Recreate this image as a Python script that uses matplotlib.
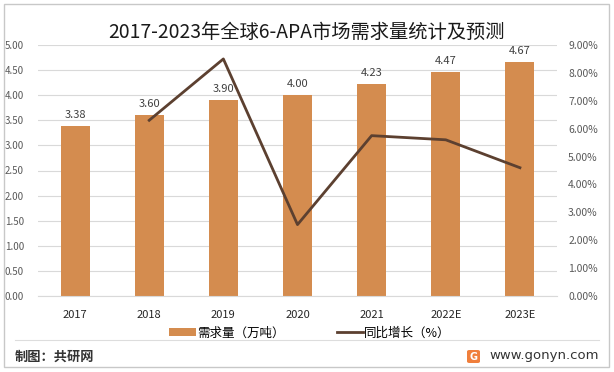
import numpy as np
import matplotlib.pyplot as plt
from matplotlib.patches import Rectangle, FancyBboxPatch
from matplotlib.lines import Line2D

plt.rcParams['font.family'] = ['Noto Sans CJK SC', 'DejaVu Sans']

years = ['2017', '2018', '2019', '2020', '2021', '2022E', '2023E']
demand = [3.38, 3.60, 3.90, 4.00, 4.23, 4.47, 4.67]
growth_years = ['2018', '2019', '2020', '2021', '2022E', '2023E']
growth = [6.3, 8.5, 2.56, 5.75, 5.6, 4.6]

bar_color = '#D48C4F'
line_color = '#5C4030'
tick_color = '#595959'

fig = plt.figure(figsize=(6.14, 3.72), dpi=100)
# outer frame
fig.patches.append(Rectangle((4 / 614, 5 / 372), 605 / 614, 363 / 372, transform=fig.transFigure,
                             fill=False, edgecolor='#C8C8C8', linewidth=1))

ax = fig.add_axes([38 / 614, 1 - 296 / 372, 519 / 614, 251 / 372])
x = np.arange(len(years))
bars = ax.bar(x, demand, width=0.39, color=bar_color, zorder=2)
for xi, v in zip(x, demand):
    ax.text(xi, v + 0.12, f'{v:.2f}', ha='center', va='bottom', fontsize=8, color='#404040')

yt = np.arange(0, 5.01, 0.5)
ax.set_ylim(0, 5)
ax.set_yticks(yt)
ax.set_yticklabels([f'{t:.2f}' for t in yt])
ax.set_xlim(-0.5, len(years) - 0.5)
ax.set_xticks(x)
ax.set_xticklabels(years)
ax.grid(axis='y', color='#D9D9D9', linewidth=0.8, zorder=0)
ax.set_axisbelow(True)
for s in ['top', 'left', 'right']:
    ax.spines[s].set_visible(False)
ax.spines['bottom'].set_color('#D9D9D9')
ax.tick_params(axis='y', length=0, labelsize=7, labelcolor=tick_color, pad=10)
ax.tick_params(axis='x', length=0, labelsize=8, labelcolor='#262626', pad=10)

ax2 = ax.twinx()
gx = [years.index(y) for y in growth_years]
line, = ax2.plot(gx, growth, color=line_color, linewidth=2.0, zorder=3)
gt = np.arange(0, 9.01, 1)
ax2.set_ylim(0, 9)
ax2.set_yticks(gt)
ax2.set_yticklabels([f'{t:.2f}%' for t in gt])
for s in ['top', 'left', 'right', 'bottom']:
    ax2.spines[s].set_visible(False)
ax2.tick_params(axis='y', length=0, labelsize=7.5, labelcolor=tick_color, pad=8)

fig.text(0.499, 1 - 32 / 372, '2017-2023年全球6-APA市场需求量统计及预测', ha='center', va='center',
         fontsize=13.9, color='#1A1A1A')

fig.legend([bars, line], ['需求量（万吨）', '同比增长（%）'], loc='center',
           bbox_to_anchor=(0.505, 1 - 333 / 372), ncol=2, frameon=False, fontsize=9,
           handlelength=2.1, handleheight=0.6, handletextpad=0.1, columnspacing=4.2)

# footer
fig.add_artist(Line2D([15 / 614, 599 / 614], [1 - 340 / 372] * 2, transform=fig.transFigure,
                      color='#DDDDDD', linewidth=0.8))
fig.text(15 / 614, 1 - 357 / 372, '制图：共研网', ha='left', va='center', fontsize=9.5,
         color='#333333', fontweight='bold')
fig.text(599 / 614, 1 - 356 / 372, 'www.gonyn.com', ha='right', va='center', fontsize=9.5,
         color='#333333', family=['DejaVu Sans'])
fig.patches.append(FancyBboxPatch((467 / 614, 1 - 363 / 372), 13 / 614, 13 / 372,
                                  boxstyle='round,pad=0,rounding_size=0.004',
                                  transform=fig.transFigure, facecolor='#F07F3C', edgecolor='none'))
fig.text(473.5 / 614, 1 - 356.5 / 372, 'G', ha='center', va='center', fontsize=7,
         color='white', fontweight='bold', family=['DejaVu Sans'])

fig.savefig('out.png', dpi=100)
